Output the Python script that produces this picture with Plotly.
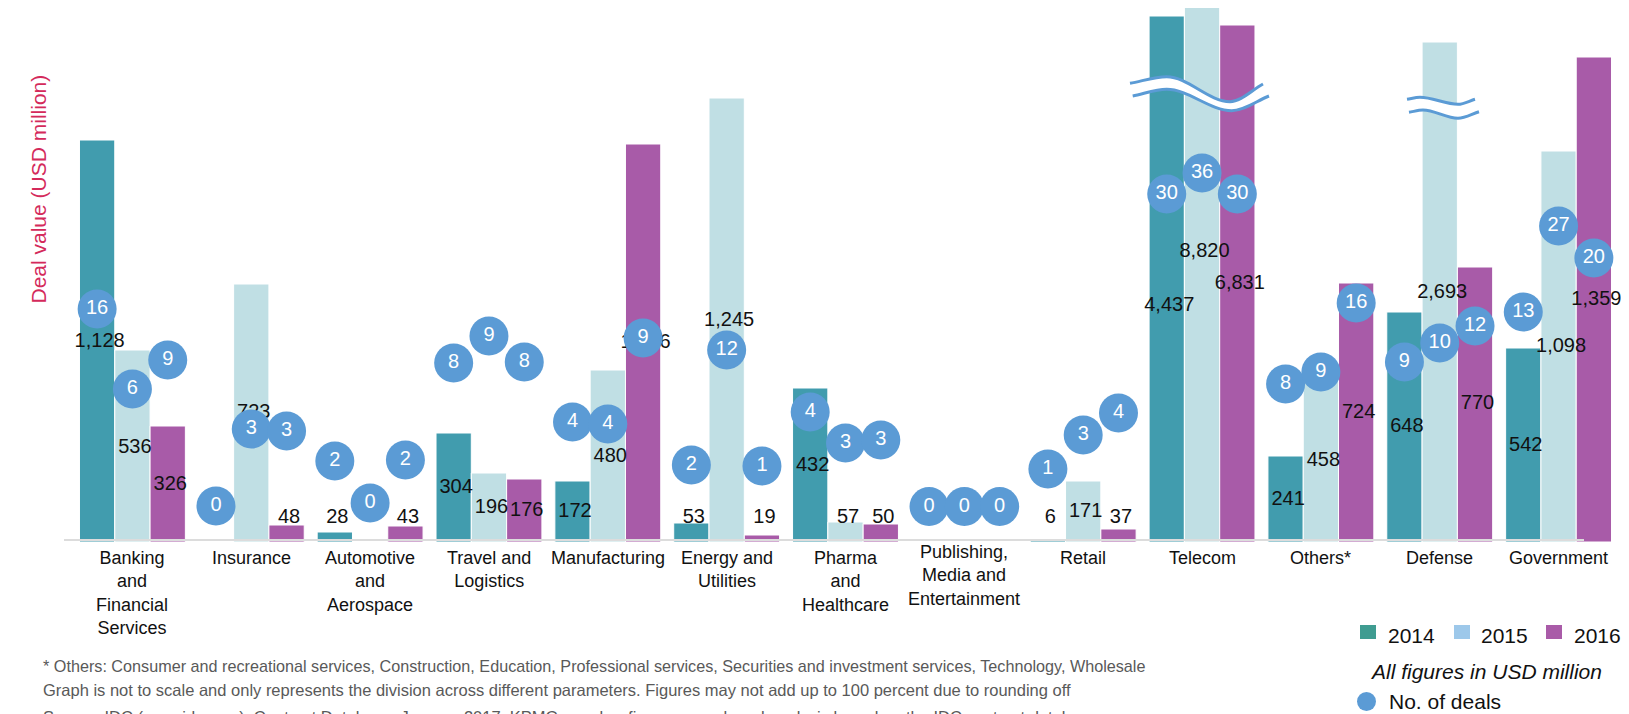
import plotly.graph_objects as go

categories = [
    "Banking<br>and<br>Financial<br>Services", "Insurance", "Automotive<br>and<br>Aerospace",
    "Travel and<br>Logistics", "Manufacturing", "Energy and<br>Utilities", "Pharma<br>and<br>Healthcare",
    "Publishing,<br>Media and<br>Entertainment", "Retail", "Telecom", "Others*", "Defense", "Government",
]
years = ["2014", "2015", "2016"]

# drawn bar heights -- the graph is not to scale, so these are the heights as drawn
bar_2014 = [402, 0, 10, 109, 61, 19, 154, 0, 2, 526, 86, 230, 194]
bar_2015 = [192, 258, 0, 69, 172, 444, 20, 0, 61, 535, 176, 500, 391]
bar_2016 = [116, 17, 16, 63, 398, 7, 18, 0, 13, 517, 259, 275, 485]

# deal values (USD million) printed on the chart
value_2014 = ["1,128", None, "28", "304", "172", "53", "432", None, "6", "4,437", "241", "648", "542"]
value_2015 = ["536", "723", None, "196", "480", "1,245", "57", None, "171", "8,820", "458", "2,693", "1,098"]
value_2016 = ["326", "48", "43", "176", "1,316", "19", "50", None, "37", "6,831", "724", "770", "1,359"]

# number of deals
deals_2014 = [16, 0, 2, 8, 4, 2, 4, 0, 1, 30, 8, 9, 13]
deals_2015 = [6, 3, 0, 9, 4, 12, 3, 0, 3, 36, 9, 10, 27]
deals_2016 = [9, 3, 2, 8, 9, 1, 3, 0, 4, 30, 16, 12, 20]

# where the labels sit (height above the baseline, chart units)
label_y_2014 = [200, None, 24, 54, 30, 24, 76, None, 24, 236, 42, 115, 96]
label_y_2015 = [94, 129, None, 34, 85, 221, 24, None, 30, 290, 81, 249, 195]
label_y_2016 = [57, 24, 24, 31, 199, 24, 24, None, 24, 258, 129, 138, 242]
bubble_y_2014 = [233, 36, 81, 179, 120, 77, 130, 35.5, 73, 348, 158, 180, 230]
bubble_y_2015 = [153, 113, 39, 206, 118, 192, 99, 35.5, 107, 369, 170, 199, 316]
bubble_y_2016 = [182, 111, 82, 180, 204, 76, 102, 35.5, 129, 348, 239, 216, 284]

bar_colors = ["#419cae", "#c0dfe4", "#a85ba8"]
legend_colors = ["#3f9c91", "#9dc8ea", "#a95ba8"]
bubble_color = "#5b9bd5"
FONT = "Arial, 'Liberation Sans', sans-serif"

# page geometry (px); the page body has an 8px margin around the figure
PAGE_OFF = 8
PL, PW = 73, 1545          # plot left edge and width, page px
BASE = 542                 # baseline, page px
PH = BASE - PAGE_OFF       # plot height (plot top sits at the figure top)
FIG_W, FIG_H = 1629 - PAGE_OFF, 714 - PAGE_OFF
W = 0.297  # bar width in category units


def xp(px):
    return (px - PL) / PW


def yp(py):
    return (BASE - py) / PH


def curve(points, start="M"):
    pts = [(xp(x), yp(y)) for x, y in points]
    s = f"{start} {pts[0][0]:.5f},{pts[0][1]:.5f}"
    n = len(pts)
    for j in range(n - 1):
        (x0, y0), (x1, y1) = pts[j], pts[j + 1]
        dx, dy = x1 - x0, y1 - y0
        c1 = (x0 + dx / 3, y0 + (dy / 3 if j == 0 else 0))
        c2 = (x1 - dx / 3, y1 - (dy / 3 if j + 1 == n - 1 else 0))
        s += f" C {c1[0]:.5f},{c1[1]:.5f} {c2[0]:.5f},{c2[1]:.5f} {x1:.5f},{y1:.5f}"
    return s


x_idx = list(range(len(categories)))
fig = go.Figure()

bars = [bar_2014, bar_2015, bar_2016]
values = [value_2014, value_2015, value_2016]
deals = [deals_2014, deals_2015, deals_2016]
label_ys = [label_y_2014, label_y_2015, label_y_2016]
bubble_ys = [bubble_y_2014, bubble_y_2015, bubble_y_2016]

for k, yr in enumerate(years):
    fig.add_trace(go.Bar(
        x=x_idx, y=bars[k], width=W, offset=(k - 1.5) * W, name=yr,
        marker=dict(color=bar_colors[k], line=dict(color="white", width=1)),
        showlegend=False, hoverinfo="skip",
    ))

nudge = 2.5 / (PW / 13)
for k in range(3):
    xs, ys, ts = [], [], []
    for i in x_idx:
        if values[k][i] is None:
            continue
        xs.append(i + (k - 1) * W + nudge)
        ys.append(label_ys[k][i])
        ts.append(values[k][i])
    fig.add_trace(go.Scatter(
        x=xs, y=ys, text=ts, mode="text", textposition="middle center", cliponaxis=False,
        textfont=dict(family=FONT, size=20, color="#111"), showlegend=False, hoverinfo="skip",
    ))

for k in range(3):
    fig.add_trace(go.Scatter(
        x=[i + (k - 1) * W for i in x_idx], y=bubble_ys[k], text=[str(d) for d in deals[k]],
        mode="markers+text", textposition="middle center", cliponaxis=False,
        marker=dict(size=39, color=bubble_color, line=dict(width=0)),
        textfont=dict(family=FONT, size=20, color="white"), showlegend=False, hoverinfo="skip",
    ))

shapes = []
# axis-break squiggles
breaks = [
    ([(1130, 83.3), (1166.7, 76.7), (1230, 101.7), (1263, 84)],
     [(1132.7, 96), (1166.7, 89.3), (1231.7, 110.7), (1269, 96)]),
    ([(1407, 99.3), (1420, 97.3), (1458, 104.3), (1475, 99.3)],
     [(1409, 112.3), (1423, 110), (1458, 118.3), (1479, 111.7)]),
]
for top, bottom in breaks:
    band = curve(top) + " " + curve(bottom[::-1], start="L") + " Z"
    shapes.append(dict(type="path", xref="paper", yref="paper", path=band,
                       fillcolor="white", line=dict(width=0), layer="above"))
    for edge in (top, bottom):
        shapes.append(dict(type="path", xref="paper", yref="paper", path=curve(edge),
                           line=dict(color=bubble_color, width=3), layer="above"))

# baseline
shapes.append(dict(type="line", xref="paper", yref="paper", x0=xp(64), x1=xp(1584), y0=yp(540), y1=yp(540),
                   line=dict(color="#dcdcdc", width=2), layer="above"))

# legend swatches
for k, (x0, x1) in enumerate([(1360, 1376), (1454, 1470), (1546, 1562)]):
    shapes.append(dict(type="rect", xref="paper", yref="paper", x0=xp(x0), x1=xp(x1), y0=yp(639), y1=yp(625),
                       fillcolor=legend_colors[k], line=dict(width=0)))
shapes.append(dict(type="circle", xref="paper", yref="paper", x0=xp(1357), x1=xp(1376), y0=yp(711), y1=yp(692),
                   fillcolor=bubble_color, line=dict(width=0)))

annotations = []
for i, cat in enumerate(categories):
    annotations.append(dict(
        x=i, xref="x", y=0, yref="paper", yanchor="top", xanchor="center", text=cat, showarrow=False,
        yshift=-4 if i != 7 else 2, font=dict(family=FONT, size=18, color="#111"),
    ))

annotations.append(dict(
    x=xp(24), y=yp(189), xref="paper", yref="paper", text="Deal value (USD million)", textangle=-90,
    showarrow=False, font=dict(family=FONT, size=21, color="#d42a5b"),
))

for k, xl in enumerate([1386, 1479, 1572]):
    annotations.append(dict(x=xp(xl), y=yp(635), xref="paper", yref="paper", xanchor="left", yanchor="middle",
                            text=years[k], showarrow=False, font=dict(family=FONT, size=21, color="#111")))
annotations.append(dict(x=xp(1485.5), y=yp(671), xref="paper", yref="paper", xanchor="center", yanchor="middle",
                        text="<i>All figures in USD million</i>", showarrow=False,
                        font=dict(family=FONT, size=21, color="#111")))
annotations.append(dict(x=xp(1387), y=yp(701.5), xref="paper", yref="paper", xanchor="left", yanchor="middle",
                        text="No. of deals", showarrow=False, font=dict(family=FONT, size=21, color="#111")))

notes = [
    (666, 16.2, "* Others: Consumer and recreational services, Construction, Education, Professional services, "
                "Securities and investment services, Technology, Wholesale"),
    (690, 16.5, "Graph is not to scale and only represents the division across different parameters. "
                "Figures may not add up to 100 percent due to rounding off"),
    (717, 16.5, "Source: IDC (www.idc.com), Contract Database, January 2017, KPMG member firms research "
                "and analysis based on the IDC contract database"),
]
for py, size, txt in notes:
    annotations.append(dict(x=xp(41), y=yp(py), xref="paper", yref="paper", xanchor="left", yanchor="middle",
                            text=txt, showarrow=False, font=dict(family=FONT, size=size, color="#595959")))

fig.update_layout(
    width=FIG_W, height=FIG_H, margin=dict(l=PL - PAGE_OFF, r=FIG_W - (PL - PAGE_OFF) - PW, t=0, b=FIG_H - PH),
    barmode="overlay", paper_bgcolor="white", plot_bgcolor="white",
    xaxis=dict(range=[-0.5, 12.5], visible=False, fixedrange=True),
    yaxis=dict(range=[0, PH], visible=False, fixedrange=True),
    shapes=shapes, annotations=annotations, showlegend=False,
)

fig.write_html("out.html")
